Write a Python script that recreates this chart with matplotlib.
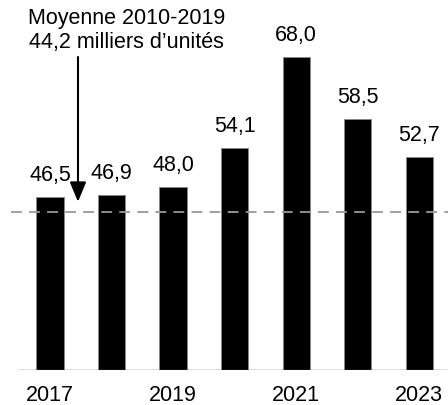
import matplotlib
matplotlib.use("Agg")
import matplotlib.pyplot as plt
import numpy as np

years = [2017, 2018, 2019, 2020, 2021, 2022, 2023]
values = [46.5, 46.9, 48.0, 54.1, 68.0, 58.5, 52.7]
tick_years = [2017, 2019, 2021, 2023]
avg_value = 44.2
avg_label = "Moyenne 2010-2019\n44,2 milliers d\u2019unités"

plt.rcParams["font.family"] = ["Liberation Sans", "DejaVu Sans"]
FS = 15.5

fig = plt.figure(figsize=(4.48, 4.05), dpi=100)
fig.patch.set_facecolor("white")
# axes spans pixel x 11..448, y 0..370
ax = fig.add_axes([11 / 448, 35 / 405, 437 / 448, 370 / 405])

x = np.arange(len(years))
ax.bar(x, values, width=0.44, bottom=0, color="black", edgecolor="#888888",
       linewidth=0.6, zorder=2)

for xi, v in zip(x, values):
    ax.annotate(f"{v:.1f}".replace(".", ","), (xi, v), xytext=(0, 8),
                textcoords="offset points", ha="center", va="bottom",
                fontsize=FS, color="black")

ax.axhline(avg_value, color="#999999", linewidth=1.3, linestyle=(0, (6, 4)),
           zorder=3)
ax.axhline(20, xmin=8 / 437, color="#555555", linewidth=1.0, zorder=4)

ax.set_xlim(-0.634, 6.47)
ax.set_ylim(20, 76.75)

ax.set_xticks([years.index(y) for y in tick_years])
ax.set_xticklabels([str(y) for y in tick_years], fontsize=FS)
ax.tick_params(axis="x", length=0, pad=11)
ax.set_yticks([])
for s in ax.spines.values():
    s.set_visible(False)

ax.text(1.25, 75.5, avg_label, ha="center", va="top", fontsize=FS,
        linespacing=1.2, multialignment="center")
ax.annotate("", xy=(0.455, 45.8), xytext=(0.455, 68.0),
            arrowprops=dict(arrowstyle="-|>,head_length=1.2,head_width=0.5",
                            color="black", linewidth=1.5,
                            shrinkA=0, shrinkB=0))

fig.savefig("out.png", dpi=100, facecolor="white")
